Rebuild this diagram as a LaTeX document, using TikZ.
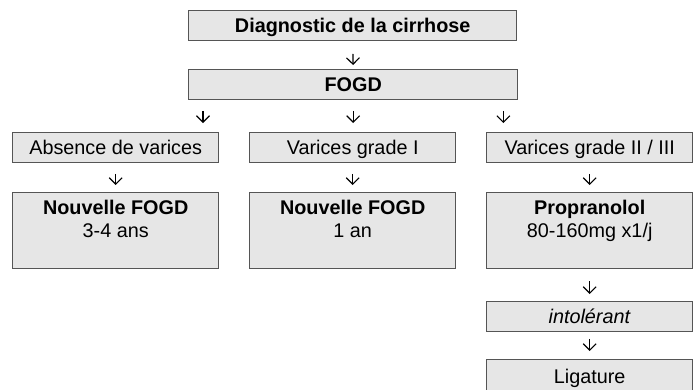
\documentclass[tikz,border=0pt]{standalone}
\usepackage{fontspec}
\setmainfont{Liberation Sans}
\usetikzlibrary{arrows.meta}
\definecolor{boxfill}{HTML}{E6E6E6}
\definecolor{boxline}{HTML}{555555}
\newcommand{\twoline}[2]{\parbox[t][76pt][t]{206pt}{\centering\rule{0pt}{22pt}\textbf{#1}\\#2}}
\begin{document}
\begin{tikzpicture}[x=1pt,y=-1pt,
  font=\fontsize{19.8}{23}\selectfont,
  box/.style={draw=boxline, fill=boxfill, line width=1.4pt, inner sep=0pt,
    anchor=north west, text height=22pt, text depth=7.5pt},
  smallbox/.style={box, minimum width=206pt},
  bigbox/.style={draw=boxline, fill=boxfill, line width=1.4pt, inner sep=0pt,
    anchor=north west},
  arr/.style={line width=1.1pt, -{Straight Barb[length=6.5pt,width=13pt]}}]
\clip (0,0) rectangle (700,389);

% top of the chart
\node[box, minimum width=328pt] (diag) at (188,10) {\textbf{Diagnostic de la cirrhose}};
\node[box, minimum width=329pt] (fogd) at (188,69) {\textbf{FOGD}};

% endoscopic findings
\node[smallbox] (abs) at (12,132) {Absence de varices};
\node[smallbox] (g1)  at (249,132) {Varices grade I};
\node[smallbox] (g23) at (486,132) {Varices grade II / III};

% follow-up / treatment
\node[bigbox] (nf1) at (12,192) {\twoline{Nouvelle FOGD}{3-4 ans}};
\node[bigbox] (nf2) at (249,192) {\twoline{Nouvelle FOGD}{1 an}};
\node[bigbox] (prop) at (486,192) {\twoline{Propranolol}{80-160mg x1/j}};

\node[smallbox] (into) at (486,301) {\textit{intolérant}};
\node[smallbox, text height=24pt, text depth=17pt] (lig) at (486,359) {Ligature};

% connectors
\draw[arr, shorten <=13pt, shorten >=4pt] (diag) -- (fogd);
\draw[arr, shorten <=11pt, shorten >=9pt]
  ([xshift=15pt]fogd.south west) -- ([xshift=15pt]fogd.south west |- abs.north);
\draw[arr, shorten <=11pt, shorten >=9pt] (fogd.south) -- (fogd.south |- g1.north);
\draw[arr, shorten <=11pt, shorten >=9pt]
  ([xshift=-15pt]fogd.south east) -- ([xshift=-15pt]fogd.south east |- g23.north);
\draw[arr, shorten <=11pt, shorten >=7pt] (abs) -- (nf1);
\draw[arr, shorten <=11pt, shorten >=7pt] (g1) -- (nf2);
\draw[arr, shorten <=11pt, shorten >=7pt] (g23) -- (prop);
\draw[arr, shorten <=12pt, shorten >=7pt] (prop) -- (into);
\draw[arr, shorten <=7pt, shorten >=8pt] (into) -- (lig);
\end{tikzpicture}
\end{document}
